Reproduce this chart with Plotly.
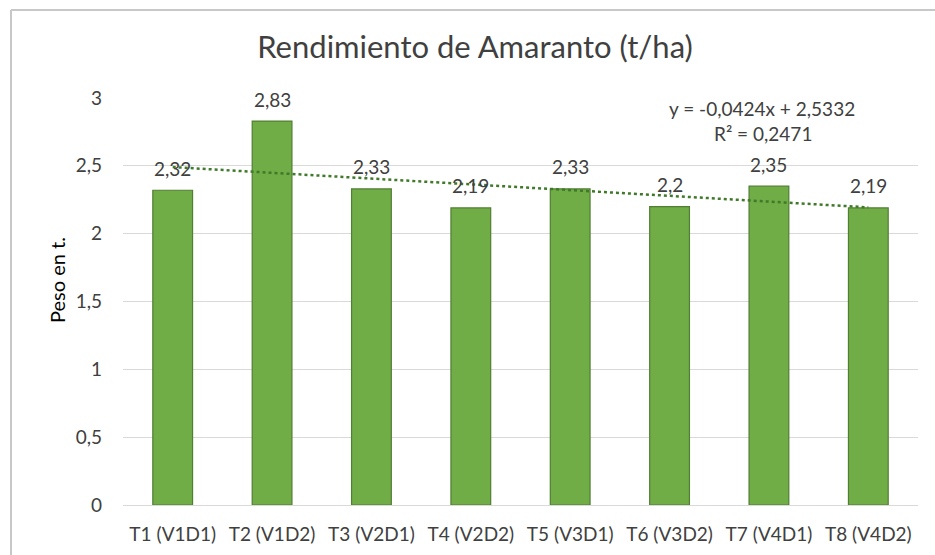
import plotly.graph_objects as go

categories = ["T1 (V1D1)", "T2 (V1D2)", "T3 (V2D1)", "T4 (V2D2)",
              "T5 (V3D1)", "T6 (V3D2)", "T7 (V4D1)", "T8 (V4D2)"]
values = [2.32, 2.83, 2.33, 2.19, 2.33, 2.2, 2.35, 2.19]
value_labels = ["2,32", "2,83", "2,33", "2,19", "2,33", "2,2", "2,35", "2,19"]
trend_slope = -0.0424
trend_intercept = 2.5332
trend_r2 = 0.2471
y_ticks = [0, 0.5, 1, 1.5, 2, 2.5, 3]
y_tick_labels = ["0", "0,5", "1", "1,5", "2", "2,5", "3"]

FONT = "Lato"
TXT = "#404040"

trend_y = [trend_intercept + trend_slope * (i + 1) for i in range(len(categories))]

fig = go.Figure()
fig.add_trace(go.Bar(
    x=categories, y=values,
    marker=dict(color="#70AD47", line=dict(color="#507E32", width=1.2)),
    hoverinfo="x+y", showlegend=False,
))
fig.add_trace(go.Scatter(
    x=categories, y=trend_y, mode="lines",
    line=dict(color="#3F7A28", width=2.5, dash="dot"),
    showlegend=False, hoverinfo="skip",
))

annotations = []
for c, v, t in zip(categories, values, value_labels):
    annotations.append(dict(
        x=c, y=v, text=t, showarrow=False, yanchor="middle", yshift=22,
        font=dict(family=FONT, size=19, color=TXT),
    ))
annotations.append(dict(
    xref="paper", yref="paper", x=(762 - 123) / 795, y=(505 - 108) / 407,
    text="y = -0,0424x + 2,5332", showarrow=False,
    font=dict(family=FONT, size=19, color=TXT), xanchor="center", yanchor="middle",
))
annotations.append(dict(
    xref="paper", yref="paper", x=(763 - 123) / 795, y=(505 - 133) / 407,
    text="R² = 0,2471", showarrow=False,
    font=dict(family=FONT, size=19, color=TXT), xanchor="center", yanchor="middle",
))
annotations.append(dict(
    xref="paper", yref="paper", x=(57 - 123) / 795, y=(505 - 280) / 407,
    text="Peso en t.", showarrow=False, textangle=-90,
    font=dict(family=FONT, size=20, color="#000000"), xanchor="center", yanchor="middle",
))

shapes = [
    dict(type="line", xref="paper", yref="paper",
         x0=(11 - 123) / 795, x1=(940 - 123) / 795,
         y0=(505 - 10) / 407, y1=(505 - 10) / 407,
         line=dict(color="#C8C8C8", width=2)),
    dict(type="line", xref="paper", yref="paper",
         x0=(11 - 123) / 795, x1=(11 - 123) / 795,
         y0=(505 - 10) / 407, y1=(505 - 560) / 407,
         line=dict(color="#C8C8C8", width=2)),
]

fig.update_layout(
    width=935, height=555,
    margin=dict(l=123, r=17, t=98, b=50),
    paper_bgcolor="white", plot_bgcolor="white",
    bargap=0.6,
    title=dict(text="Rendimiento de Amaranto (t/ha)", x=475 / 935, xanchor="center",
               y=1 - 47 / 555, yanchor="middle",
               font=dict(family=FONT, size=31, color=TXT)),
    font=dict(family=FONT, color=TXT),
    annotations=annotations,
    shapes=shapes,
    xaxis=dict(showline=True, linecolor="#D9D9D9", linewidth=1, ticks="",
               tickfont=dict(family=FONT, size=19, color=TXT),
               ticklabelstandoff=12, showgrid=False, automargin=False),
    yaxis=dict(range=[0, 3], tickvals=y_ticks, ticktext=y_tick_labels,
               showgrid=True, gridcolor="#D9D9D9", gridwidth=1, zeroline=False,
               tickfont=dict(family=FONT, size=19, color=TXT),
               ticklabelstandoff=20, automargin=False),
)

fig.write_html("out.html", config={"displayModeBar": False},
               post_script="document.body.style.margin='0';")
